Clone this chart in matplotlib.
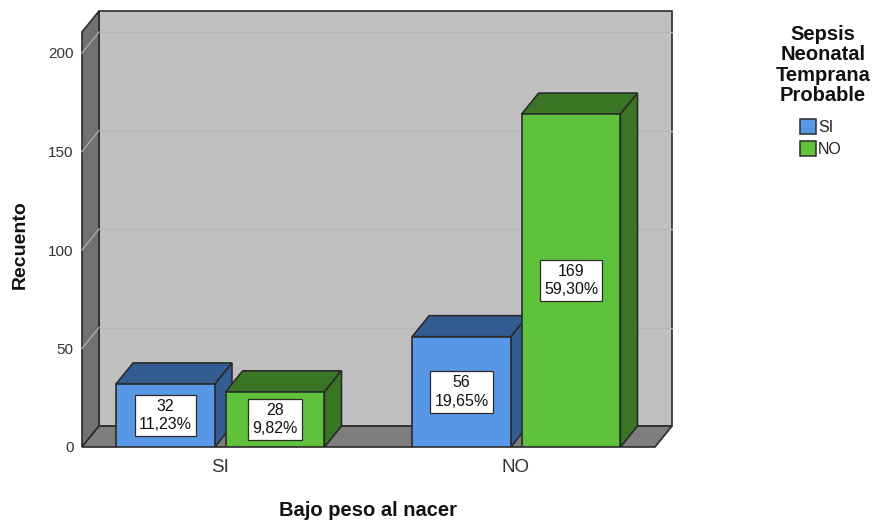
import matplotlib
matplotlib.use('Agg')
import matplotlib.pyplot as plt
from matplotlib.patches import Polygon, Rectangle

plt.rcParams['font.family'] = ['Liberation Sans', 'DejaVu Sans']

# Bajo peso al nacer (x categories) vs sepsis neonatal temprana probable (series)
categories = ['SI', 'NO']
series = ['SI', 'NO']
counts_si = [32, 56]
counts_no = [28, 169]
pct_si = ['11,23%', '19,65%']
pct_no = ['9,82%', '59,30%']
yticks = [0, 50, 100, 150, 200]

front_colors = ['#5897E6', '#5EC23A']
dark_colors = ['#335C92', '#3A7524']

W, H = 877, 524
fig = plt.figure(figsize=(W / 100, H / 100), dpi=100)


def fx(px):
    return px / W


def fy(py):
    return 1 - py / H


# front plane box in pixels
left, right, top, base = 82, 672, 11, 447
ax = fig.add_axes([fx(left), fy(base), (right - left) / W, (base - top) / H])
px_per_unit = 1.97
cat_px = 296
ymax = (base - top) / px_per_unit
x0 = (left - 220) / cat_px
x1 = (right - 220) / cat_px
ax.set_xlim(x0, x1)
ax.set_ylim(0, ymax)
dx = 17 / cat_px
dy = 21 / px_per_unit

edge = '#2b2b2b'

# walls and floor
ax.add_patch(Rectangle((x0 + dx, dy), x1 - x0 - dx, ymax - dy, fc='#C0C0C0',
                       ec=edge, lw=1.2, clip_on=False, zorder=0))
ax.add_patch(Polygon([(x0, 0), (x0 + dx, dy), (x0 + dx, ymax), (x0, ymax - dy)],
                     closed=True, fc='#717171', ec=edge, lw=1.2, clip_on=False, zorder=1))
ax.add_patch(Polygon([(x0, 0), (x1 - dx, 0), (x1, dy), (x0 + dx, dy)],
                     closed=True, fc='#7E7E7E', ec=edge, lw=1.2, clip_on=False, zorder=1))

for t in yticks[1:]:
    ax.plot([x0 + dx, x1], [t + dy, t + dy], color='#B6B6B6', lw=1.0, zorder=0.5, clip_on=False)
    ax.plot([x0, x0 + dx], [t, t + dy], color='#A8A8A8', lw=1.0, zorder=1.5, clip_on=False)

# 3d bars
width = 0.334
offsets = [-0.184, 0.186]
all_counts = [counts_si, counts_no]
all_pcts = [pct_si, pct_no]
z = 2
for j in range(len(categories)):
    for i in range(len(series)):
        v = all_counts[i][j]
        xc = j + offsets[i]
        xa, xb = xc - width / 2, xc + width / 2
        ax.bar(xc, v, width, color=front_colors[i], edgecolor=edge, lw=1.2, zorder=z + 0.2)
        ax.add_patch(Polygon([(xa, v), (xb, v), (xb + dx, v + dy), (xa + dx, v + dy)],
                             closed=True, fc=dark_colors[i], ec=edge, lw=1.2, zorder=z))
        ax.add_patch(Polygon([(xb, 0), (xb + dx, dy), (xb + dx, v + dy), (xb, v)],
                             closed=True, fc=dark_colors[i], ec=edge, lw=1.2, zorder=z))
        ax.text(xc, v / 2, f'{v}\n{all_pcts[i][j]}', ha='center', va='center',
                fontsize=11.5, color='#111111', linespacing=1.3, zorder=z + 0.3,
                bbox=dict(boxstyle='square,pad=0.25', fc='white', ec=edge, lw=0.9))
        z += 1

ax.set_yticks(yticks)
ax.set_yticklabels([str(t) for t in yticks], fontsize=11, color='#333333')
ax.set_xticks(range(len(categories)))
ax.set_xticklabels(categories, fontsize=13.5, color='#333333')
ax.tick_params(axis='y', length=0, pad=6)
ax.tick_params(axis='x', length=0, pad=9)
for s in ax.spines.values():
    s.set_visible(False)
ax.patch.set_visible(False)

fig.text(fx(20), fy(245), 'Recuento', rotation=90, ha='center', va='center',
         fontsize=14, fontweight='bold', color='#111111')
fig.text(fx(368), fy(511), 'Bajo peso al nacer', ha='center', va='center',
         fontsize=14.5, fontweight='bold', color='#111111')

# legend
fig.text(fx(823), fy(65), 'Sepsis\nNeonatal\nTemprana\nProbable', ha='center', va='center',
         fontsize=14.5, fontweight='bold', color='#111111', linespacing=1.08)
for k, name in enumerate(series):
    ytop = 119 + k * 22
    fig.add_artist(Rectangle((fx(800), fy(ytop + 15)), 16 / W, 15 / H,
                             fc=front_colors[k], ec=edge, lw=1.1, transform=fig.transFigure))
    fig.text(fx(818), fy(ytop + 8), name, ha='left', va='center', fontsize=11.5, color='#222222')

fig.savefig('out.png', dpi=100)
